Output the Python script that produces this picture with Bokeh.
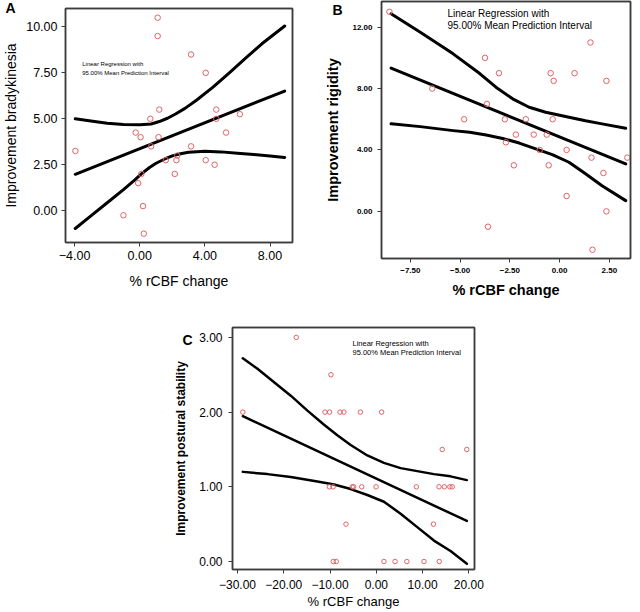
from bokeh.plotting import figure
from bokeh.layouts import column, row
from bokeh.models import FixedTicker, Label, Spacer, LinearAxis
from bokeh.embed import file_html
from bokeh.resources import INLINE

# ---------------- Panel A data ----------------
a_x = [-3.95, 1.1, 1.1, 3.15, 4.05, 1.2, 0.65, 4.7, 4.7, 6.15, -0.25, 0.05, 1.15, 5.3,
       0.7, 3.15, 1.6, 2.25, 2.3, 4.05, 4.6, 2.15, 0.1, -0.1, 0.2, -1.0, 0.25]
a_y = [3.25, 10.5, 9.5, 8.5, 7.5, 5.5, 5.0, 5.5, 5.0, 5.25, 4.25, 4.0, 4.0, 4.25,
       3.5, 3.5, 2.75, 2.75, 3.0, 2.75, 2.5, 2.0, 2.0, 1.5, 0.25, -0.25, -1.25]
a_fit_x = [-3.96, 8.9]
a_fit_y = [1.98, 6.51]
a_up_x = [-3.96, -3.0, -2.0, -1.0, 0.0, 0.7, 1.2, 1.7, 2.2, 2.8, 3.5, 4.5, 5.5, 6.5, 7.5, 8.9]
a_up_y = [5.0, 4.88, 4.76, 4.69, 4.68, 4.72, 4.85, 5.03, 5.26, 5.58, 6.02, 6.72, 7.5, 8.3, 9.08, 10.05]
a_lo_x = [-3.96, -3.0, -2.0, -1.0, -0.3, 0.1, 0.6, 1.0, 1.5, 2.0, 2.5, 3.0, 4.0, 5.0, 6.0, 7.0, 8.0, 8.9]
a_lo_y = [-0.97, -0.28, 0.43, 1.15, 1.68, 2.0, 2.35, 2.58, 2.8, 2.98, 3.1, 3.18, 3.24, 3.2, 3.13, 3.06, 2.98, 2.9]
a_xticks = [-4, 0, 4, 8]
a_xtick_labels = ["\u22124.00", "0.00", "4.00", "8.00"]
a_yticks = [0, 2.5, 5, 7.5, 10]
a_ytick_labels = ["0.00", "2.50", "5.00", "7.50", "10.00"]

# ---------------- Panel B data ----------------
b_x = [-8.55, -6.4, -4.8, -3.75, -3.65, -3.05, -2.75, -2.7, -2.2, -2.3, -1.7, -1.3, -1.0,
       -0.65, -0.55, -0.45, -0.3, -0.35, 0.75, 0.35, 0.35, 1.55, 1.6, 1.65, 2.35, 2.2, 2.35, 3.4, -3.6]
b_y = [13.0, 8.0, 6.0, 10.0, 7.0, 9.0, 6.0, 4.5, 5.0, 3.0, 6.0, 5.0, 4.0,
       5.0, 3.0, 9.0, 8.5, 6.0, 9.0, 4.0, 1.0, 11.0, 3.5, -2.5, 8.5, 2.5, 0.0, 3.5, -1.0]
b_fit_x = [-8.47, 3.32]
b_fit_y = [9.33, 3.09]
b_up_x = [-8.47, -7.0, -5.35, -4.0, -3.2, -2.36, -1.53, -0.7, 0.47, 1.3, 2.13, 3.32]
b_up_y = [12.87, 11.67, 10.26, 8.96, 8.09, 7.33, 6.78, 6.46, 6.13, 5.9, 5.7, 5.41]
b_lo_x = [-8.47, -7.0, -5.35, -4.52, -3.69, -2.86, -2.03, -1.2, -0.37, 0.47, 1.3, 2.13, 3.32]
b_lo_y = [5.7, 5.52, 5.26, 5.15, 4.98, 4.75, 4.45, 4.07, 3.7, 3.2, 2.45, 1.67, 0.7]
b_xticks = [-7.5, -5, -2.5, 0, 2.5]
b_xtick_labels = ["\u22127.50", "\u22125.00", "\u22122.50", "0.00", "2.50"]
b_yticks = [0, 4, 8, 12]
b_ytick_labels = ["0.00", "4.00", "8.00", "12.00"]

# ---------------- Panel C data ----------------
c_x = [-28.85, -17.3, -9.8, -11.1, -10.1, -7.85, -7.0, -3.45, 1.15, -10.15, -9.35, -5.2, -4.9,
       -3.15, -0.05, 8.65, 13.55, 14.7, 15.9, 16.4, 14.25, 19.55, -6.55, 12.35, -9.3, -8.65,
       1.65, 4.05, 6.6, 10.3, 13.6]
c_y = [2.0, 3.0, 2.5, 2.0, 2.0, 2.0, 2.0, 2.0, 2.0, 1.0, 1.0, 1.0, 1.0,
       1.0, 1.0, 1.0, 1.0, 1.0, 1.0, 1.0, 1.5, 1.5, 0.5, 0.5, 0.0, 0.0,
       0.0, 0.0, 0.0, 0.0, 0.0]
c_fit_x = [-28.85, 19.57]
c_fit_y = [1.945, 0.543]
c_up_x = [-28.85, -25.68, -22.09, -18.49, -14.89, -11.29, -8.42, -5.54, -1.94, 1.65, 5.25, 8.85, 12.45, 16.04, 19.57]
c_up_y = [2.72, 2.58, 2.4, 2.22, 2.02, 1.83, 1.69, 1.56, 1.42, 1.32, 1.25, 1.21, 1.17, 1.14, 1.09]
c_lo_x = [-28.85, -23.53, -18.49, -12.73, -9.14, -5.54, -1.94, 1.65, 5.25, 8.85, 12.45, 16.04, 19.57]
c_lo_y = [1.2, 1.17, 1.13, 1.07, 1.03, 0.97, 0.89, 0.8, 0.64, 0.46, 0.28, 0.14, -0.03]
c_xticks = [-30, -20, -10, 0, 10, 20]
c_xtick_labels = ["\u221230.00", "\u221220.00", "\u221210.00", "0.00", "10.00", "20.00"]
c_yticks = [0, 1, 2, 3]
c_ytick_labels = ["0.00", "1.00", "2.00", "3.00"]

legend_lines = ["Linear Regression with", "95.00% Mean Prediction Interval"]
panel_letters = ["A", "B", "C"]

FONT = "Liberation Sans"
FRAME = "#3c3c3c"
PT = "#e06466"


def frame_axis():
    ax = LinearAxis(ticker=FixedTicker(ticks=[]), axis_line_color=FRAME, axis_line_width=1.5,
                    major_tick_out=0, major_tick_in=0, minor_tick_out=0, minor_tick_in=0,
                    major_tick_line_color=None, minor_tick_line_color=None,
                    major_label_text_font_size="0px", major_label_standoff=0)
    return ax


def panel(width, height, xr, yr, mb, xticks, xlabels, yticks, ylabels,
          tick_size, tick_style, xlab, ylab, lab_size_x, lab_size_y, xlab_style, ylab_style,
          tick_standoff, label_standoff_x, label_standoff_y):
    p = figure(width=width, height=height, x_range=xr, y_range=yr,
               toolbar_location=None, output_backend="svg",
               min_border_left=mb[0], min_border_right=mb[1],
               min_border_top=mb[2], min_border_bottom=mb[3])
    p.frame_align = False
    p.grid.visible = False
    p.background_fill_color = "white"
    p.border_fill_color = "white"
    p.outline_line_color = FRAME
    p.outline_line_width = 1.5
    xax = p.below[0]
    yax = p.left[0]
    for ax, ticks, labels, lab, lsz, lso, lst in ((xax, xticks, xlabels, xlab, lab_size_x, label_standoff_x, xlab_style),
                                                (yax, yticks, ylabels, ylab, lab_size_y, label_standoff_y, ylab_style)):
        ax.ticker = FixedTicker(ticks=ticks)
        ax.major_label_overrides = dict(zip(ticks, labels))
        ax.axis_line_color = FRAME
        ax.axis_line_width = 1.5
        ax.major_tick_out = 4
        ax.major_tick_in = 0
        ax.major_tick_line_color = FRAME
        ax.minor_tick_line_color = None
        ax.major_label_text_font = FONT
        ax.major_label_text_font_size = tick_size
        ax.major_label_text_font_style = tick_style
        ax.major_label_text_color = "black"
        ax.major_label_standoff = tick_standoff
        ax.axis_label = lab
        ax.axis_label_text_font = FONT
        ax.axis_label_text_font_size = lsz
        ax.axis_label_text_font_style = lst
        ax.axis_label_text_color = "black"
        ax.axis_label_standoff = lso
    p.add_layout(frame_axis(), "above")
    p.add_layout(frame_axis(), "right")
    return p


def add_curves(p, px, py, fx, fy, ux, uy, lx, ly, lw, msize):
    for xs, ys in ((fx, fy), (ux, uy), (lx, ly)):
        p.line(xs, ys, line_color="black", line_width=lw, line_join="round", line_cap="round")
    p.scatter(px, py, marker="circle", size=msize, fill_color=None,
              line_color=PT, line_width=1)


def to_data(geom, px, py):
    fl, ft, fw, fh, x0, x1, y0, y1 = geom
    return x0 + (px - fl) / fw * (x1 - x0), y1 - (py - ft) / fh * (y1 - y0)


def make_text(geom, px, py, text, size, style="normal"):
    x, y = to_data(geom, px, py)
    return Label(x=x, y=y, text=text, text_font=FONT, text_font_size=size,
                 text_font_style=style, text_align="left", text_baseline="middle",
                 text_color="black")


# ---------- Panel A (page x 0..320, y 0..300) ----------
A_XR = (-4.56, 9.38)
A_YR = (-1.73, 11.0)
pA = panel(320, 300, A_XR, A_YR, (61, 28, 8, 58), a_xticks, a_xtick_labels, a_yticks, a_ytick_labels,
           "12.5px", "normal", "% rCBF change", "Improvement bradykinesia", "14px", "14px",
           "normal", "normal", 4, 10, 4)
add_curves(pA, a_x, a_y, a_fit_x, a_fit_y, a_up_x, a_up_y, a_lo_x, a_lo_y, 3, 5.5)
gA = (61, 8, 231, 234) + A_XR + A_YR
pA.add_layout(make_text(gA, 78, 63, legend_lines[0], "6px"))
pA.add_layout(make_text(gA, 78, 72, legend_lines[1], "6px"))
pA.add_layout(make_text(gA, 0, 7, panel_letters[0], "14px", "bold"), "right")

# ---------- Panel B (page x 320..640, y 0..300) ----------
B_XR = (-8.95, 3.56)
B_YR = (-3.07, 13.67)
pB = panel(320, 300, B_XR, B_YR, (61, 7, 1, 42), b_xticks, b_xtick_labels, b_yticks, b_ytick_labels,
           "8px", "bold", "% rCBF change", "Improvement rigidity", "14.5px", "14.5px",
           "bold", "bold", 5, 6, 8)
add_curves(pB, b_x, b_y, b_fit_x, b_fit_y, b_up_x, b_up_y, b_lo_x, b_lo_y, 3, 5.5)
gB = (381, 1, 249, 257) + B_XR + B_YR
pB.add_layout(make_text(gB, 447, 13, legend_lines[0], "10px"))
pB.add_layout(make_text(gB, 447, 25, legend_lines[1], "10px"))
pB.add_layout(make_text(gB, 332, 9, panel_letters[1], "14px", "bold"), "right")

# ---------- Panel C (page x 150..490, y 300..612) ----------
C_XR = (-31.08, 21.22)
C_YR = (-0.107, 3.133)
pC = panel(340, 312, C_XR, C_YR, (82, 16, 27, 43), c_xticks, c_xtick_labels, c_yticks, c_ytick_labels,
           "12px", "normal", "% rCBF change", "Improvement postural stability", "13px", "12px",
           "normal", "bold", 6, 2, 8)
add_curves(pC, c_x, c_y, c_fit_x, c_fit_y, c_up_x, c_up_y, c_lo_x, c_lo_y, 2.5, 4.5)
gC = (232, 327, 242, 242) + C_XR + C_YR
pC.add_layout(make_text(gC, 352, 343, legend_lines[0], "7.5px"))
pC.add_layout(make_text(gC, 352, 352, legend_lines[1], "7.5px"))
pC.add_layout(make_text(gC, 182, 339, panel_letters[2], "14px", "bold"), "left")

layout = column(row(pA, pB), row(Spacer(width=150, height=312), pC))

with open("out.html", "w") as f:
    f.write(file_html(layout, INLINE))
